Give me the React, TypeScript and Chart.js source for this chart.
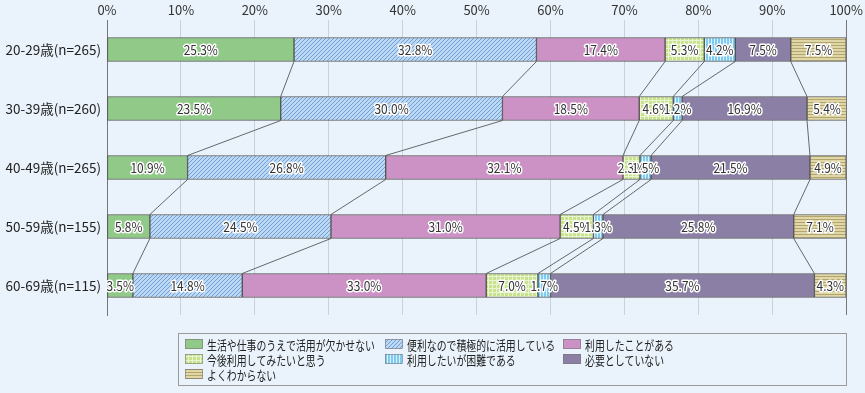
import React, { useEffect, useRef } from "react";
import { Chart, registerables } from "chart.js";
Chart.register(...registerables);

const categories = ["20-29歳(n=265)", "30-39歳(n=260)", "40-49歳(n=265)", "50-59歳(n=155)", "60-69歳(n=115)"];
const seriesNames = [
  "生活や仕事のうえで活用が欠かせない",
  "便利なので積極的に活用している",
  "利用したことがある",
  "今後利用してみたいと思う",
  "利用したいが困難である",
  "必要としていない",
  "よくわからない",
];
const essential = [25.3, 23.5, 10.9, 5.8, 3.5];
const activeUse = [32.8, 30.0, 26.8, 24.5, 14.8];
const usedBefore = [17.4, 18.5, 32.1, 31.0, 33.0];
const wantToUse = [5.3, 4.6, 2.3, 4.5, 7.0];
const difficult = [4.2, 1.2, 1.5, 1.3, 1.7];
const notNeeded = [7.5, 16.9, 21.5, 25.8, 35.7];
const unknown = [7.5, 5.4, 4.9, 7.1, 4.3];
const tickLabels = ["0%", "10%", "20%", "30%", "40%", "50%", "60%", "70%", "80%", "90%", "100%"];

const FONT = "'Noto Sans CJK JP', 'Noto Sans', sans-serif";
const BG = "#eaf3fb";

function makePattern(kind: string): CanvasPattern | string {
  const c = document.createElement("canvas");
  const s = kind === "grid" ? 4 : kind === "diag" ? 4 : 3;
  c.width = s;
  c.height = s;
  const g = c.getContext("2d")!;
  if (kind === "diag") {
    g.fillStyle = "#bdd8f2";
    g.fillRect(0, 0, s, s);
    g.strokeStyle = "#6f9fd6";
    g.lineWidth = 1;
    g.beginPath();
    g.moveTo(0, s);
    g.lineTo(s, 0);
    g.moveTo(-1, 1);
    g.lineTo(1, -1);
    g.moveTo(s - 1, s + 1);
    g.lineTo(s + 1, s - 1);
    g.stroke();
  } else if (kind === "grid") {
    g.fillStyle = "#c8e28e";
    g.fillRect(0, 0, s, s);
    g.fillStyle = "#e8f4d2";
    g.fillRect(0, 0, s, 1);
    g.fillRect(0, 0, 1, s);
  } else if (kind === "vert") {
    g.fillStyle = "#7fcbef";
    g.fillRect(0, 0, s, s);
    g.fillStyle = "#d9f1fc";
    g.fillRect(0, 0, 1, s);
  } else if (kind === "horiz") {
    g.fillStyle = "#e0d7a8";
    g.fillRect(0, 0, s, s);
    g.fillStyle = "#b3a56c";
    g.fillRect(0, 0, s, 1);
  }
  return g.createPattern(c, "repeat")!;
}

export default function App() {
  const ref = useRef<HTMLCanvasElement>(null);
  useEffect(() => {
    const fills: (CanvasPattern | string)[] = [
      "#91ca88",
      makePattern("diag"),
      "#cd92c5",
      makePattern("grid"),
      makePattern("vert"),
      "#8b7fa6",
      makePattern("horiz"),
    ];
    const allData = [essential, activeUse, usedBefore, wantToUse, difficult, notNeeded, unknown];

    const bgPlugin = {
      id: "bg",
      beforeDraw(chart: any) {
        const ctx = chart.ctx;
        ctx.save();
        ctx.fillStyle = BG;
        ctx.fillRect(0, 0, chart.width, chart.height);
        ctx.restore();
      },
    };

    const overlayPlugin = {
      id: "overlay",
      afterDatasetsDraw(chart: any) {
        const ctx = chart.ctx;
        ctx.save();
        ctx.strokeStyle = "#444";
        ctx.lineWidth = 0.8;
        const n = chart.data.datasets.length;
        for (let d = 0; d < n - 1; d++) {
          const meta = chart.getDatasetMeta(d);
          for (let i = 0; i < meta.data.length - 1; i++) {
            const a = meta.data[i];
            const b = meta.data[i + 1];
            ctx.beginPath();
            ctx.moveTo(a.x, a.y + a.height / 2);
            ctx.lineTo(b.x, b.y - b.height / 2);
            ctx.stroke();
          }
        }
        ctx.font = `13px ${FONT}`;
        ctx.textAlign = "center";
        ctx.textBaseline = "middle";
        ctx.lineJoin = "round";
        for (let d = 0; d < n; d++) {
          const meta = chart.getDatasetMeta(d);
          meta.data.forEach((el: any, i: number) => {
            const v = chart.data.datasets[d].data[i];
            const txt = `${v.toFixed(1)}%`;
            const x = (el.x + el.base) / 2;
            const y = el.y + 1;
            ctx.save();
            ctx.translate(x, y);
            ctx.scale(0.92, 1);
            ctx.strokeStyle = "#ffffff";
            ctx.lineWidth = 3;
            ctx.strokeText(txt, 0, 0);
            ctx.fillStyle = "#333333";
            ctx.fillText(txt, 0, 0);
            ctx.restore();
          });
        }
        ctx.restore();
      },
      afterDraw(chart: any) {
        const ctx = chart.ctx;
        ctx.save();
        ctx.strokeStyle = "#9a9a9a";
        ctx.lineWidth = 1;
        ctx.strokeRect(178.5, 333.5, 668, 52);
        const cols = [185, 385, 563];
        const rows = [344, 359, 374];
        ctx.font = `13px ${FONT}`;
        ctx.textAlign = "left";
        ctx.textBaseline = "middle";
        seriesNames.forEach((name, k) => {
          const col = k % 3;
          const row = Math.floor(k / 3);
          const x = cols[col];
          const y = rows[row];
          ctx.fillStyle = fills[k] as any;
          ctx.fillRect(x, y - 5, 18, 10);
          ctx.strokeStyle = "#777";
          ctx.lineWidth = 0.6;
          ctx.strokeRect(x + 0.5, y - 4.5, 17, 9);
          ctx.save();
          ctx.translate(x + 22, y + 1);
          ctx.scale(0.76, 1);
          ctx.fillStyle = "#222";
          ctx.fillText(name, 0, 0);
          ctx.restore();
        });
        ctx.restore();
      },
    };

    const chart = new Chart(ref.current!, {
      type: "bar",
      data: {
        labels: categories,
        datasets: allData.map((arr, k) => ({
          label: seriesNames[k],
          data: arr,
          backgroundColor: fills[k] as any,
          borderColor: "#555555",
          borderWidth: 1,
          borderSkipped: false,
          barThickness: 24,
        })),
      },
      options: {
        indexAxis: "y",
        responsive: false,
        animation: false,
        layout: { padding: { left: 0, right: 18, top: 0, bottom: 78 } },
        plugins: {
          legend: { display: false },
          tooltip: { enabled: false },
        },
        scales: {
          x: {
            position: "top",
            stacked: true,
            min: 0,
            max: 100,
            afterFit(scale: any) {
              scale.height = 20;
            },
            ticks: {
              stepSize: 10,
              padding: 2,
              color: "#333",
              font: { family: FONT, size: 13 },
              callback: (_v: any, i: number) => tickLabels[i],
            },
            grid: {
              drawTicks: false,
              color: (ctx: any) =>
                ctx.tick && (ctx.tick.value === 0 || ctx.tick.value === 100) ? "#777" : "#c9d2dc",
              lineWidth: 1,
            },
            border: { display: false },
          },
          y: {
            stacked: true,
            afterFit(scale: any) {
              scale.width = 107;
            },
            ticks: {
              color: "#222",
              padding: 6,
              font: { family: FONT, size: 13.5 },
            },
            grid: { display: false, drawTicks: false },
            border: { display: true, color: "#777" },
          },
        },
      },
      plugins: [bgPlugin, overlayPlugin],
    });
    return () => chart.destroy();
  }, []);
  return (
    <div style={{ position: "fixed", left: 0, top: 0, width: 865, height: 393, background: BG }}>
      <canvas ref={ref} width={865} height={393} />
    </div>
  );
}
